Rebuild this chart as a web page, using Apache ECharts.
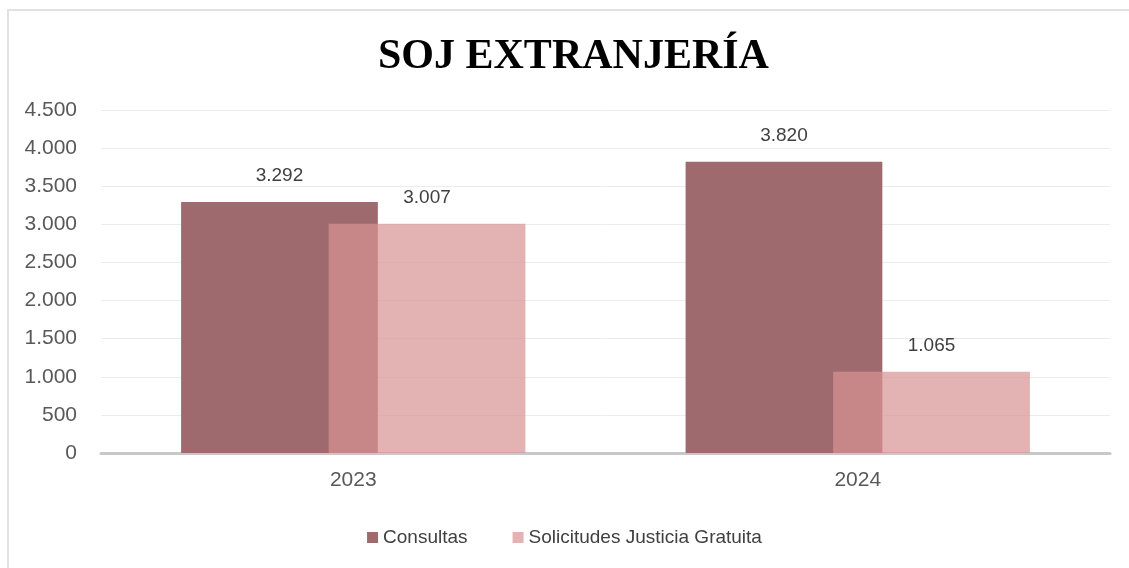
<!DOCTYPE html>
<html>
<head>
<meta charset="utf-8">
<script src="https://cdn.jsdelivr.net/npm/echarts@6/dist/echarts.min.js"></script>
<style>
  html, body { margin: 0; padding: 0; background: #ffffff; }
  #frame { position: absolute; left: 7px; top: 9px; width: 1200px; height: 600px;
           border-left: 2px solid #e2e2e2; border-top: 2px solid #e2e2e2; box-sizing: border-box; }
  #chart { position: absolute; left: 0; top: 0; width: 1129px; height: 568px; }
</style>
</head>
<body>
<div id="frame"></div>
<div id="chart"></div>
<script>
const categories = ['2023', '2024'];
const consultas = [3292, 3820];
const solicitudes = [3007, 1065];
const seriesNames = ['Consultas', 'Solicitudes Justicia Gratuita'];
const titleText = 'SOJ EXTRANJERÍA';

const sans = '"Liberation Sans Narrow", "Liberation Sans", Arial, sans-serif';
const fmt = v => String(v).replace(/\B(?=(\d{3})+(?!\d))/g, '.');

const chart = echarts.init(document.getElementById('chart'), null, { renderer: 'canvas' });
chart.setOption({
  backgroundColor: 'transparent',
  animation: false,
  title: {
    text: titleText,
    left: 373,
    top: 31,
    textStyle: { fontFamily: '"Liberation Serif", "DejaVu Serif", serif', fontWeight: 'bold', fontSize: 42, color: '#000000', letterSpacing: 1.8 }
  },
  legend: {
    bottom: 16,
    left: 'center',
    itemWidth: 11,
    itemHeight: 11,
    itemGap: 45,
    icon: 'rect',
    textStyle: { fontFamily: sans, fontSize: 19, color: '#404040' },
    data: seriesNames
  },
  grid: { left: 101, right: 19, top: 110, bottom: 115, containLabel: false },
  xAxis: {
    type: 'category',
    data: categories,
    axisTick: { show: false },
    axisLine: { lineStyle: { color: '#c8c8c8', width: 3 } },
    axisLabel: { fontFamily: sans, fontSize: 21, color: '#595959', margin: 17 }
  },
  yAxis: {
    type: 'value',
    min: 0, max: 4500, interval: 500,
    axisLine: { show: false },
    axisTick: { show: false },
    splitLine: { lineStyle: { color: '#ececec', width: 1 } },
    axisLabel: { fontFamily: sans, fontSize: 21, color: '#595959', margin: 24, formatter: v => fmt(v) }
  },
  series: [
    {
      name: seriesNames[0], type: 'bar', data: consultas,
      barWidth: '39%', barGap: '-25%',
      itemStyle: { color: '#9e6a6e' },
      label: { show: true, position: 'top', distance: 17, formatter: p => fmt(p.value),
               fontFamily: sans, fontSize: 19, color: '#404040' }
    },
    {
      name: seriesNames[1], type: 'bar', data: solicitudes,
      barWidth: '39%', barGap: '-25%',
      itemStyle: { color: 'rgba(216,147,146,0.71)' },
      label: { show: true, position: 'top', distance: 17, formatter: p => fmt(p.value),
               fontFamily: sans, fontSize: 19, color: '#404040' }
    }
  ]
});
</script>
</body>
</html>
